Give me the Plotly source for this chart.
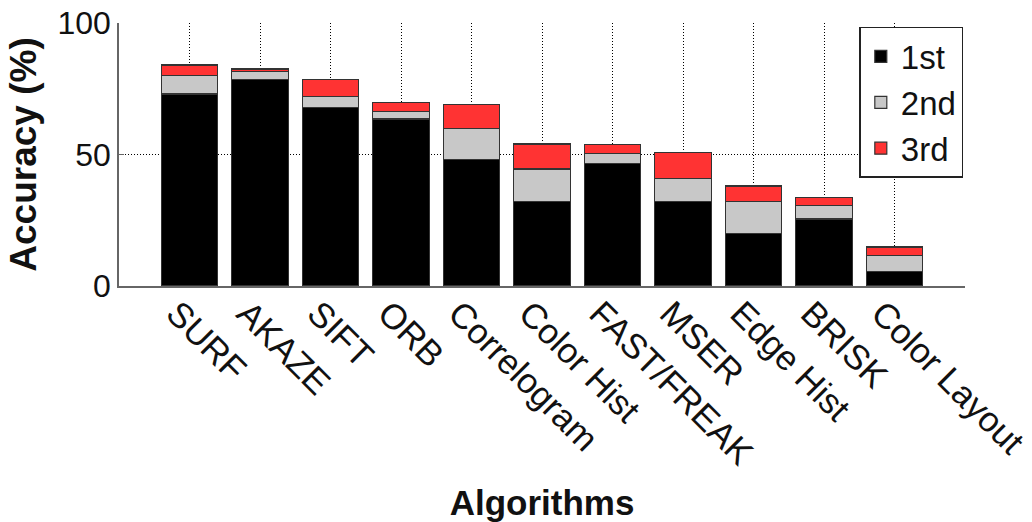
import plotly.graph_objects as go

# Stacked accuracy per algorithm (percent of queries ranked 1st / 2nd / 3rd)
algorithms = ["SURF", "AKAZE", "SIFT", "ORB", "Correlogram", "Color Hist",
              "FAST/FREAK", "MSER", "Edge Hist", "BRISK", "Color Layout"]
first = [73.0, 78.5, 68.0, 63.5, 48.0, 32.0, 46.5, 32.0, 20.0, 25.5, 5.5]
second = [7.0, 3.0, 4.0, 3.0, 12.0, 12.5, 4.0, 9.0, 12.0, 5.0, 6.0]
third = [4.0, 1.0, 6.5, 3.3, 9.0, 9.5, 3.3, 9.8, 6.0, 3.3, 3.3]

series_names = ["1st", "2nd", "3rd"]
series_colors = ["#000000", "#c8c8c8", "#ff3333"]

FONT = "Liberation Sans, Arial, Helvetica, sans-serif"

fig = go.Figure()
for name, vals, color in zip(series_names, [first, second, third], series_colors):
    fig.add_trace(go.Bar(
        x=algorithms, y=vals, name=name,
        marker=dict(color=color, line=dict(color="#333333", width=1.2)),
        width=0.8,
    ))

fig.update_layout(
    barmode="stack",
    width=1032, height=522,
    margin=dict(l=119, r=67, t=23, b=236, autoexpand=False),
    paper_bgcolor="white", plot_bgcolor="white",
    font=dict(family=FONT, size=32, color="#111111"),
    legend=dict(
        x=0.998, y=0.985, xanchor="right", yanchor="top",
        bgcolor="white", bordercolor="#222222", borderwidth=1.5,
        font=dict(size=33, color="#111111"),
        tracegroupgap=0, itemwidth=30,
        traceorder="normal",
    ),
    bargap=0.2,
)

fig.update_xaxes(
    range=[-1, 11],
    tickangle=45,
    automargin=False,
    showgrid=True, gridcolor="#000000", gridwidth=1, griddash="1px,2px",
    showline=True, linecolor="#666666", linewidth=2,
    ticks="", tickfont=dict(size=35, color="#111111"),
    ticklabelshift=-13, ticklabelstandoff=-9,
    title=dict(text="<b>Algorithms</b>", font=dict(size=35, color="#111111"), standoff=22),
)
fig.update_yaxes(
    range=[0, 100],
    tickvals=[0, 50, 100],
    automargin=False,
    showgrid=True, gridcolor="#000000", gridwidth=1, griddash="1px,2px",
    zeroline=False,
    showline=True, linecolor="#666666", linewidth=1.5,
    ticks="inside", ticklen=5, tickcolor="#666666",
    tickfont=dict(size=32, color="#111111"),
    title=dict(text="<b>Accuracy (%)</b>", font=dict(size=37, color="#111111"), standoff=10),
)

fig.write_html("out.html")
